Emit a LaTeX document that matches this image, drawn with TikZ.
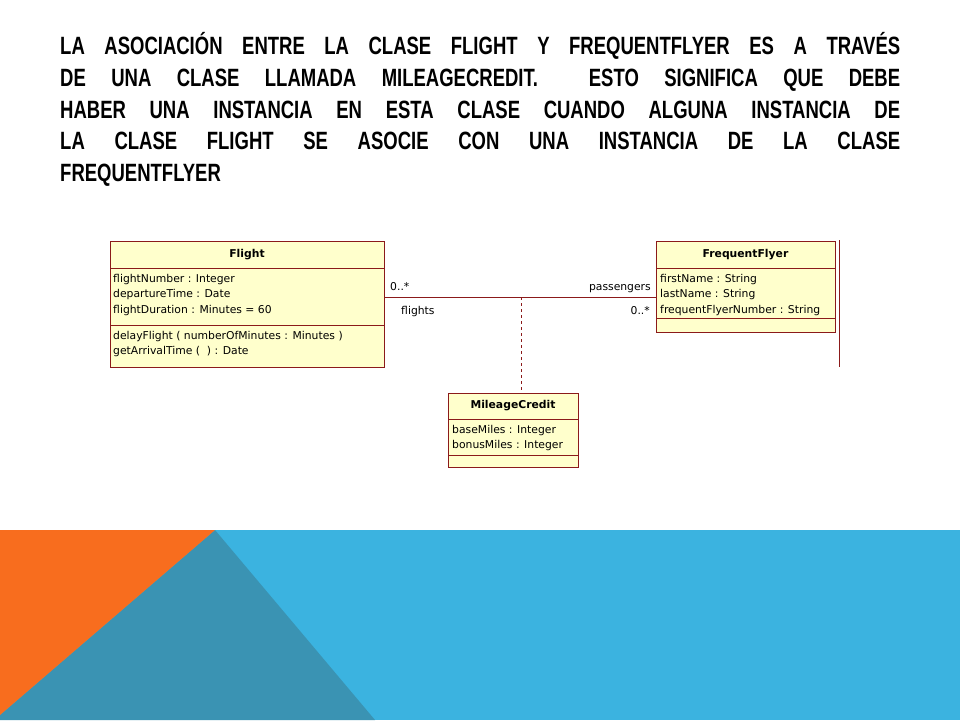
\documentclass[tikz,border=0pt]{standalone}
\usepackage{fontspec}
\setmainfont{Liberation Sans}
\newfontfamily\titlefont[FakeStretch=0.74]{Liberation Sans}
\newfontfamily\umlfont{DejaVu Sans}
\definecolor{umlfill}{HTML}{FFFFCC}
\definecolor{umlline}{HTML}{8B1A1A}
\definecolor{bandblue}{HTML}{3BB3E0}
\definecolor{bandteal}{HTML}{3A93B3}
\definecolor{bandorange}{HTML}{F86D1E}
\tikzset{
  umlbox/.style={draw=umlline, fill=umlfill, line width=0.8pt},
  umltext/.style={font=\umlfont\fontsize{10.8}{15.5}\selectfont, anchor=north west, inner sep=0pt, align=left},
  umlhead/.style={font=\umlfont\bfseries\fontsize{10.8}{15.5}\selectfont, inner sep=0pt},
  titleline/.style={font=\titlefont\bfseries\fontsize{25}{30}\selectfont, anchor=base west, inner sep=0pt}
}
\newcommand{\tline}[1]{\makebox[840pt][s]{#1}}
\begin{document}
\begin{tikzpicture}[x=1pt,y=-1pt]
        \useasboundingbox (0,0) rectangle (960,720);
        % background band
        \fill[bandblue] (0,530) rectangle (960,720);
        \fill[bandteal] (215,530) -- (375,720) -- (0,720) -- (0,715) -- cycle;
        \fill[bandorange] (0,530) -- (215,530) -- (0,715) -- cycle;
        % title
        \node[titleline] (t1) at (60,54) {\tline{LA ASOCIACIÓN ENTRE LA CLASE FLIGHT Y FREQUENTFLYER ES A TRAVÉS}};
        \node[titleline] (t2) at (60,86) {\tline{DE UNA CLASE LLAMADA MILEAGECREDIT.\ \ ESTO SIGNIFICA QUE DEBE}};
        \node[titleline] (t3) at (60,118) {\tline{HABER UNA INSTANCIA EN ESTA CLASE CUANDO ALGUNA INSTANCIA DE}};
        \node[titleline] (t4) at (60,149) {\tline{LA CLASE FLIGHT SE ASOCIE CON UNA INSTANCIA DE LA CLASE}};
        \node[titleline] (t5) at (60,181) {FREQUENTFLYER};
        % Flight
        \draw[umlbox] (110,241) rectangle (384,367);
        \draw[umlline, line width=0.8pt] (110,268) -- (384,268) (110,325) -- (384,325);
        \node[umlhead] (flight) at (247,254.5) {Flight};
        \node[umltext] (flightattr) at (113,274) {flightNumber : Integer\\departureTime : Date\\flightDuration : Minutes = 60};
        \node[umltext] (flightops) at (113,331) {delayFlight ( numberOfMinutes : Minutes )\\getArrivalTime (\ \ ) : Date};
        \coordinate (fe) at (384,297);
        % FrequentFlyer
        \draw[umlbox] (656,241) rectangle (835,332);
        \draw[umlline, line width=0.8pt] (656,268) -- (835,268) (656,318) -- (835,318);
        \node[umlhead] (ff) at (745.5,254.5) {FrequentFlyer};
        \node[umltext] (ffattr) at (660,274) {firstName : String\\lastName : String\\frequentFlyerNumber : String};
        \coordinate (fw) at (656,297);
        \draw[umlline, line width=0.8pt] (839,240) -- (839,367);
        % MileageCredit
        \draw[umlbox] (448,393) rectangle (578,467);
        \draw[umlline, line width=0.8pt] (448,419) -- (578,419) (448,455) -- (578,455);
        \node[umlhead] (mc) at (513,406) {MileageCredit};
        \node[umltext] (mcattr) at (452,425) {baseMiles : Integer\\bonusMiles : Integer};
        \coordinate (mctop) at (521,393);
        % association
        \draw[umlline, line width=0.8pt] (fe) -- (fw);
        \coordinate (mid) at (521,297);
        \draw[umlline, dashed, line width=0.6pt] (mid) -- (mctop);
        \node[umltext, anchor=base west] (m1) at (390,290) {0..*};
        \node[umltext, anchor=base west] (r1) at (401,314) {flights};
        \node[umltext, anchor=base east] (r2) at (651,290) {passengers};
        \node[umltext, anchor=base east] (m2) at (650,314) {0..*};
\end{tikzpicture}
\end{document}
